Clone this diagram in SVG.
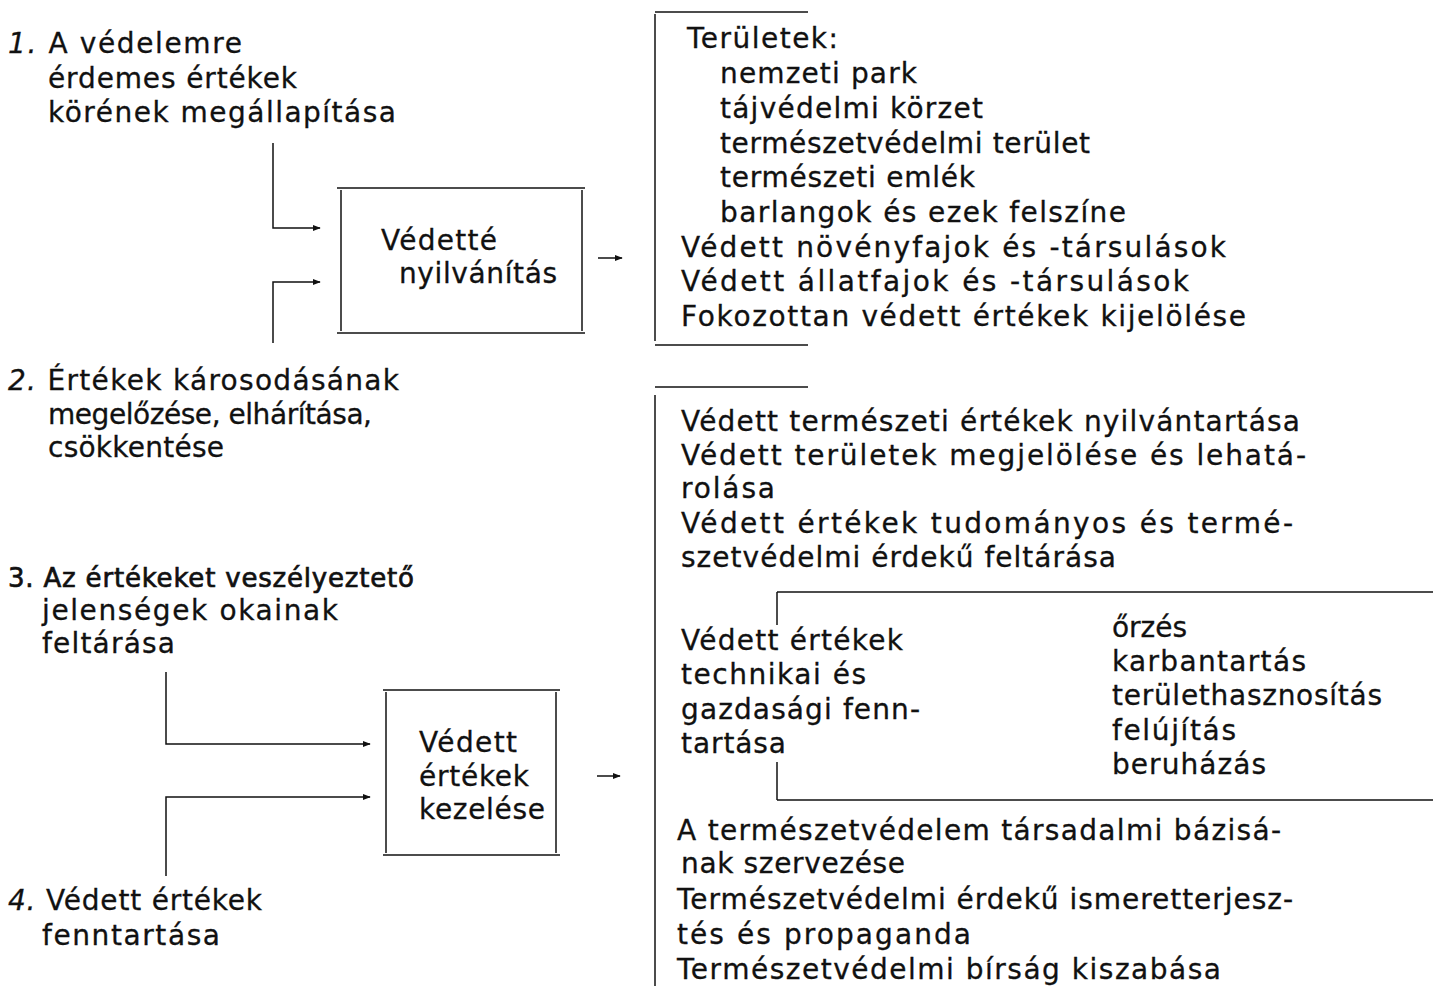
<svg xmlns="http://www.w3.org/2000/svg" width="1433" height="989" viewBox="0 0 1433 989">
<style>
text{font-family:"DejaVu Sans","Liberation Sans",sans-serif;font-size:28px;fill:#111;stroke:#111;stroke-width:0.3}
.n{font-style:italic}
.h{stroke-width:0.7;font-size:26px}
.ln{stroke:#111;stroke-width:1.5;fill:none}
</style>
<defs>
<marker id="ah" viewBox="0 0 10 10" refX="9" refY="5" markerWidth="8" markerHeight="8" markerUnits="userSpaceOnUse" orient="auto">
<path d="M0,1 L10,5 L0,9 Z" fill="#111"/>
</marker>
</defs>
<rect width="1433" height="989" fill="#fff"/>

<g id="step1">
<text x="8" y="53" textLength="234"><tspan class="n">1.</tspan> A védelemre</text>
<text x="48" y="88" textLength="249">érdemes értékek</text>
<text x="48" y="122" textLength="348">körének megállapítása</text>
</g>
<g id="step2">
<text x="8" y="390" textLength="391"><tspan class="n">2.</tspan> Értékek károsodásának</text>
<text x="48" y="424" textLength="324">megelőzése, elhárítása,</text>
<text x="48" y="457" textLength="176">csökkentése</text>
</g>
<g id="step3">
<text x="8" y="587" textLength="406" class="h">3. Az értékeket veszélyeztető</text>
<text x="42" y="620" textLength="296">jelenségek okainak</text>
<text x="42" y="653" textLength="133">feltárása</text>
</g>
<g id="step4">
<text x="8" y="910" textLength="254"><tspan class="n">4.</tspan> Védett értékek</text>
<text x="42" y="945" textLength="178">fenntartása</text>
</g>

<g id="box1">
<line class="ln" x1="337" y1="188" x2="585" y2="188"/>
<line class="ln" x1="337" y1="333" x2="585" y2="333"/>
<line class="ln" x1="341" y1="190" x2="341" y2="331"/>
<line class="ln" x1="582" y1="190" x2="582" y2="331"/>
<text x="381" y="250" textLength="116">Védetté</text>
<text x="399" y="283" textLength="158">nyilvánítás</text>
</g>

<g id="box2">
<line class="ln" x1="383" y1="690" x2="560" y2="690"/>
<line class="ln" x1="383" y1="855" x2="560" y2="855"/>
<line class="ln" x1="386" y1="692" x2="386" y2="853"/>
<line class="ln" x1="556" y1="692" x2="556" y2="853"/>
<text x="419" y="752" textLength="98">Védett</text>
<text x="419" y="786" textLength="110">értékek</text>
<text x="419" y="819" textLength="126">kezelése</text>
</g>

<g id="list1">
<line class="ln" x1="655" y1="12" x2="808" y2="12"/>
<line class="ln" x1="655" y1="14" x2="655" y2="341"/>
<line class="ln" x1="655" y1="345" x2="808" y2="345"/>
<text x="687" y="48" textLength="151">Területek:</text>
<text x="720" y="83" textLength="197">nemzeti park</text>
<text x="720" y="118" textLength="263">tájvédelmi körzet</text>
<text x="720" y="153" textLength="370">természetvédelmi terület</text>
<text x="720" y="187" textLength="255">természeti emlék</text>
<text x="720" y="222" textLength="406">barlangok és ezek felszíne</text>
<text x="681" y="257" textLength="545">Védett növényfajok és -társulások</text>
<text x="681" y="291" textLength="508">Védett állatfajok és -társulások</text>
<text x="681" y="326" textLength="565">Fokozottan védett értékek kijelölése</text>
</g>

<g id="list2">
<line class="ln" x1="655" y1="387" x2="808" y2="387"/>
<line class="ln" x1="655" y1="395" x2="655" y2="986"/>
<text x="681" y="431" textLength="619">Védett természeti értékek nyilvántartása</text>
<text x="681" y="465" textLength="625">Védett területek megjelölése és lehatá-</text>
<text x="681" y="498" textLength="94">rolása</text>
<text x="681" y="533" textLength="612">Védett értékek tudományos és termé-</text>
<text x="681" y="567" textLength="435">szetvédelmi érdekű feltárása</text>
<text x="677" y="840" textLength="604">A természetvédelem társadalmi bázisá-</text>
<text x="681" y="873" textLength="224">nak szervezése</text>
<text x="677" y="909" textLength="616">Természetvédelmi érdekű ismeretterjesz-</text>
<text x="677" y="944" textLength="294">tés és propaganda</text>
<text x="677" y="979" textLength="544">Természetvédelmi bírság kiszabása</text>
</g>

<g id="maintenance">
<line class="ln" x1="777" y1="592" x2="1433" y2="592"/>
<line class="ln" x1="777" y1="592" x2="777" y2="625"/>
<line class="ln" x1="777" y1="762" x2="777" y2="800"/>
<line class="ln" x1="777" y1="800" x2="1433" y2="800"/>
<text x="681" y="650" textLength="222">Védett értékek</text>
<text x="681" y="684" textLength="185">technikai és</text>
<text x="681" y="719" textLength="239">gazdasági fenn-</text>
<text x="681" y="753" textLength="105">tartása</text>
<text x="1112" y="637" textLength="75">őrzés</text>
<text x="1112" y="671" textLength="194">karbantartás</text>
<text x="1112" y="705" textLength="270">területhasznosítás</text>
<text x="1112" y="740" textLength="124">felújítás</text>
<text x="1112" y="774" textLength="154">beruházás</text>
</g>

<g id="connectors">
<polyline class="ln" points="273,143 273,228 320,228" marker-end="url(#ah)"/>
<polyline class="ln" points="273,343 273,282 320,282" marker-end="url(#ah)"/>
<line class="ln" x1="598" y1="258" x2="622" y2="258" marker-end="url(#ah)"/>
<polyline class="ln" points="166,672 166,744 370,744" marker-end="url(#ah)"/>
<polyline class="ln" points="166,876 166,797 370,797" marker-end="url(#ah)"/>
<line class="ln" x1="597" y1="776" x2="620" y2="776" marker-end="url(#ah)"/>
</g>
</svg>
